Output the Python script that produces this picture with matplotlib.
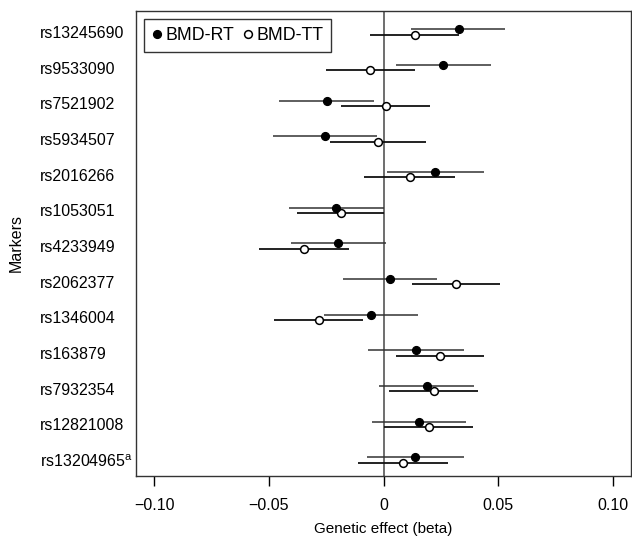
import numpy as np
import matplotlib.pyplot as plt

plt.rcParams['font.family'] = ['Liberation Sans', 'DejaVu Sans']
plt.rcParams['mathtext.fontset'] = 'custom'
plt.rcParams['mathtext.rm'] = 'Liberation Sans'

markers = ['rs13245690', 'rs9533090', 'rs7521902', 'rs5934507', 'rs2016266',
           'rs1053051', 'rs4233949', 'rs2062377', 'rs1346004', 'rs163879',
           'rs7932354', 'rs12821008', r'rs13204965$^{\mathrm{a}}$']

# BMD-RT (filled)
rt_beta = [0.0327, 0.0261, -0.0248, -0.0255, 0.0225, -0.0207, -0.0197,
           0.0028, -0.0055, 0.0142, 0.0189, 0.0155, 0.0135]
rt_lo = [0.0119, 0.0053, -0.0458, -0.0481, 0.0014, -0.0411, -0.0405,
         -0.0178, -0.0260, -0.0066, -0.0018, -0.0052, -0.0073]
rt_hi = [0.0530, 0.0468, -0.0040, -0.0030, 0.0439, 0.0002, 0.0011,
         0.0235, 0.0152, 0.0349, 0.0395, 0.0360, 0.0349]

# BMD-TT (open)
tt_beta = [0.0138, -0.0059, 0.0011, -0.0024, 0.0113, -0.0187, -0.0347,
           0.0315, -0.0282, 0.0247, 0.0218, 0.0199, 0.0084]
tt_lo = [-0.0058, -0.0251, -0.0187, -0.0234, -0.0087, -0.0379, -0.0542,
         0.0123, -0.0477, 0.0053, 0.0025, 0.0003, -0.0113]
tt_hi = [0.0327, 0.0135, 0.0203, 0.0186, 0.0312, 0.0002, -0.0151,
         0.0509, -0.0091, 0.0436, 0.0411, 0.0392, 0.0280]

y = np.arange(len(markers))
off = 0.075

fig = plt.figure(figsize=(6.32, 5.36), dpi=100)
ax = fig.add_axes([0.2152, 0.112, 0.7828, 0.8675])

ax.axvline(0, color='#555555', lw=1.2, zorder=1)

ax.hlines(y - off, rt_lo, rt_hi, color='#333333', lw=1.1, zorder=2)
ax.hlines(y + off, tt_lo, tt_hi, color='#111111', lw=1.3, zorder=2)
ax.plot(rt_beta, y - off, 'o', ms=5.6, mfc='black', mec='black', ls='none',
        label='BMD-RT', zorder=4)
ax.plot(tt_beta, y + off, 'o', ms=5.6, mfc='white', mec='black', mew=1.1,
        ls='none', label='BMD-TT', zorder=3)

ax.set_xlim(-0.108, 0.1078)
ax.set_ylim(12.45, -0.59)
ax.set_xticks([-0.10, -0.05, 0, 0.05, 0.10])
ax.set_xticklabels(['\u22120.10', '\u22120.05', '0', '0.05', '0.10'])
ax.set_yticks(y)
ax.set_yticklabels(markers)
ax.tick_params(axis='x', length=7, width=1, labelsize=11.5, pad=9)
ax.tick_params(axis='y', length=0, labelsize=11.5, pad=69)
for lab in ax.get_yticklabels():
    lab.set_horizontalalignment('left')
for s in ax.spines.values():
    s.set_linewidth(1.0)
    s.set_color('#333333')

ax.set_xlabel('Genetic effect (beta)', fontsize=11, labelpad=6)
ax.set_ylabel('Markers', fontsize=11.5)
ax.yaxis.set_label_coords(-0.226, 0.5)

leg = ax.legend(loc='upper left', ncol=2, fontsize=12.8, frameon=True,
                fancybox=False, edgecolor='black', handlelength=0.6,
                handletextpad=0.15, columnspacing=0.5, borderpad=0.45,
                borderaxespad=0.45, markerscale=1.0)
leg.get_frame().set_linewidth(1.0)

fig.savefig('out.png', dpi=100)
